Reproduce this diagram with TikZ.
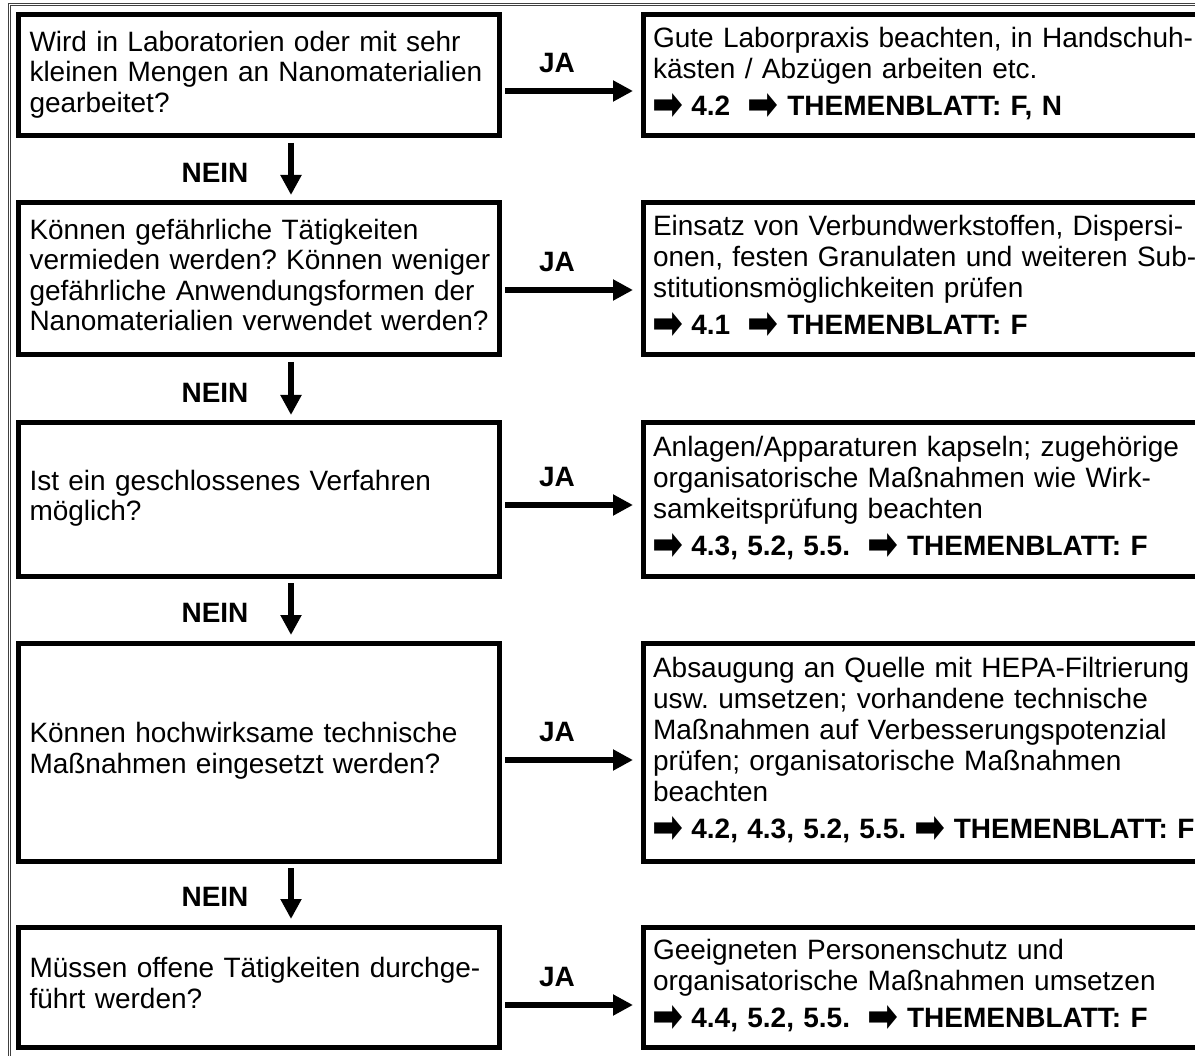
\documentclass[tikz,border=0pt]{standalone}
\usepackage{fontspec}
\setmainfont{Liberation Sans}
\newfontfamily\dvfont{DejaVu Sans}
\usetikzlibrary{arrows.meta}
\newcommand\myarr{\hspace*{-1pt}\raisebox{-4pt}[18pt][0pt]{\resizebox{31pt}{26pt}{\dvfont ➡}}\hspace*{-1pt}}
\newcommand\mylines[1]{\begin{tabular}{@{}l@{}}#1\end{tabular}}
\tikzset{
 qbox/.style={draw, line width=5pt, outer sep=0pt, inner sep=0pt, minimum width=480.5pt, text width=458.5pt, align=left, font=\fontsize{28}{30.5}\selectfont\frenchspacing},
 abox/.style={draw, line width=5pt, outer sep=0pt, inner sep=0pt, minimum width=566.5pt, text width=547.5pt, align=left, font=\fontsize{28}{31}\selectfont\frenchspacing},
 lbl/.style={font=\bfseries\fontsize{28}{31}\selectfont, inner sep=0pt},
 arr/.style={line width=6pt, -{Triangle[width=20pt,length=20pt]}},
 frame/.style={line width=0.9pt, black!75},
}
\begin{document}
\begin{tikzpicture}[x=1pt,y=-1pt]
\useasboundingbox (0,0) rectangle (1195,1056);
\clip (0,0) rectangle (1195,1056);
\fill[white] (0,0) rectangle (1195,1056);
% outer frame (double line)
\draw[frame] (8.2,1056) -- (8.2,3.5) -- (1195,3.5);
\draw[frame] (10.2,1056) -- (10.2,5.5) -- (1195,5.5);
% question boxes
\node[qbox, minimum height=121pt] (q1) at (258.75,75.5) {\mylines{Wird in Laboratorien oder mit sehr\\kleinen Mengen an Nanomaterialien\\gearbeitet?}};
\node[qbox, minimum height=152pt] (q2) at (258.75,279) {\mylines{Können gefährliche Tätigkeiten\\vermieden werden? Können weniger\\gefährliche Anwendungsformen der\\Nanomaterialien verwendet werden?}};
\node[qbox, minimum height=153pt] (q3) at (258.75,499.5) {\mylines{Ist ein geschlossenes Verfahren\\möglich?}};
\node[qbox, minimum height=218pt] (q4) at (258.75,752) {\mylines{Können hochwirksame technische\\Maßnahmen eingesetzt werden?}};
\node[qbox, minimum height=120pt] (q5) at (258.75,987) {\mylines{Müssen offene Tätigkeiten durchge-\\führt werden?}};
% answer boxes
\node[abox, minimum height=121pt] (a1) at (926.75,75.5) {\mylines{Gute Laborpraxis beachten, in Handschuh-\\kästen / Abzügen arbeiten etc.\\[6pt]\textbf{\myarr{} 4.2 ~\myarr{} THEMENBLATT: F, N}}};
\node[abox, minimum height=152pt] (a2) at (926.75,279) {\mylines{Einsatz von Verbundwerkstoffen, Dispersi-\\onen, festen Granulaten und weiteren Sub-\\stitutionsmöglichkeiten prüfen\\[6pt]\textbf{\myarr{} 4.1 ~\myarr{} THEMENBLATT: F}}};
\node[abox, minimum height=153pt] (a3) at (926.75,499.5) {\mylines{Anlagen/Apparaturen kapseln; zugehörige\\organisatorische Maßnahmen wie Wirk-\\samkeitsprüfung beachten\\[6pt]\textbf{\myarr{} 4.3, 5.2, 5.5. ~\myarr{} THEMENBLATT: F}}};
\node[abox, minimum height=218pt] (a4) at (926.75,752) {\mylines{Absaugung an Quelle mit HEPA-Filtrierung\\usw. umsetzen; vorhandene technische\\Maßnahmen auf Verbesserungspotenzial\\prüfen; organisatorische Maßnahmen\\beachten\\[6pt]\textbf{\myarr{} 4.2, 4.3, 5.2, 5.5. \myarr{} THEMENBLATT: F}}};
\node[abox, minimum height=120pt] (a5) at (926.75,987) {\mylines{Geeigneten Personenschutz und\\organisatorische Maßnahmen umsetzen\\[6pt]\textbf{\myarr{} 4.4, 5.2, 5.5. ~\myarr{} THEMENBLATT: F}}};
% NEIN arrows
\foreach \a/\b in {q1/q2,q2/q3,q3/q4,q4/q5}
  \draw[arr, shorten <=7pt, shorten >=8pt] ([xshift=32.25pt]\a.south) -- ([xshift=32.25pt]\b.north);
\node[lbl] (n1) at (215,173) {NEIN};
\node[lbl] (n2) at (215,393) {NEIN};
\node[lbl] (n3) at (215,613) {NEIN};
\node[lbl] (n4) at (215,897) {NEIN};
% JA arrows
\draw[arr, shorten <=6pt, shorten >=10.5pt] ([yshift=-15.5pt]q1.east) -- ([yshift=-15.5pt]a1.west);
\draw[arr, shorten <=6pt, shorten >=10.5pt] ([yshift=-11pt]q2.east) -- ([yshift=-11pt]a2.west);
\draw[arr, shorten <=6pt, shorten >=10.5pt] ([yshift=-5.5pt]q3.east) -- ([yshift=-5.5pt]a3.west);
\draw[arr, shorten <=6pt, shorten >=10.5pt] ([yshift=-8pt]q4.east) -- ([yshift=-8pt]a4.west);
\draw[arr, shorten <=6pt, shorten >=10.5pt] ([yshift=-18pt]q5.east) -- ([yshift=-18pt]a5.west);
\node[lbl] (j1) at (557,63) {JA};
\node[lbl] (j2) at (557,262) {JA};
\node[lbl] (j3) at (557,477) {JA};
\node[lbl] (j4) at (557,732) {JA};
\node[lbl] (j5) at (557,977) {JA};
\end{tikzpicture}
\end{document}
